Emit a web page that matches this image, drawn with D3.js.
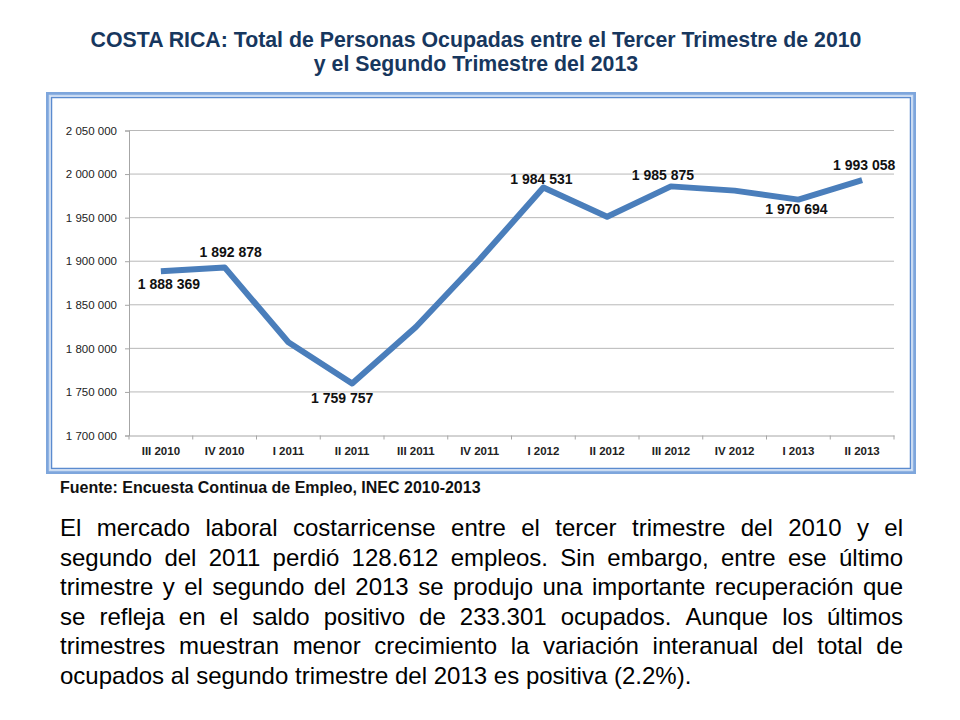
<!DOCTYPE html>
<html>
<head>
<meta charset="utf-8">
<script src="https://cdn.jsdelivr.net/npm/d3@7"></script>
<style>
  body { margin: 0; background: #fff; }
  svg { display: block; }
</style>
</head>
<body>
<div id="chart"></div>
<script>
!function () {
  'use strict';

  // data
  var categories = ["III 2010", "IV 2010", "I 2011", "II 2011", "III 2011", "IV 2011",
                    "I 2012", "II 2012", "III 2012", "IV 2012", "I 2013", "II 2013"];
  var ocupados = [1888369, 1892878, 1807000, 1759757, 1824500, 1902000,
                  1984531, 1951000, 1985875, 1981000, 1970694, 1993058];
  var labelled = [true, true, false, true, false, false,
                  true, false, true, false, true, true];
  var yTicks = [1700000, 1750000, 1800000, 1850000, 1900000, 1950000, 2000000, 2050000];

  var titleLines = ["COSTA RICA: Total de Personas Ocupadas entre el Tercer Trimestre de 2010",
                    "y el Segundo Trimestre del 2013"];
  var source = "Fuente: Encuesta Continua de Empleo, INEC 2010-2013";
  var paragraph = [
    "El mercado laboral costarricense entre el tercer trimestre del 2010 y el",
    "segundo del 2011 perdió 128.612 empleos.  Sin embargo, entre ese último",
    "trimestre y el  segundo del 2013 se produjo una importante recuperación que",
    "se refleja en el saldo positivo de 233.301 ocupados. Aunque los últimos",
    "trimestres muestran menor crecimiento la variación interanual del total de",
    "ocupados al segundo trimestre del 2013 es positiva (2.2%)."
  ];

  // label nudges (layout, not data)
  var labelDx = [8, 6, 0, -10, 0, 0, -2, 0, -8, 0, -2, 2];
  var labelDy = [18, -10, 0, 20, 0, 0, -4, 0, -6, 0, 14, -10];

  var W = 960, H = 720;
  var plot = { left: 129, right: 894, top: 130.5, bottom: 435.5 };

  var locale = d3.formatLocale({ decimal: ",", thousands: " ", grouping: [3], currency: ["", ""] });
  var fmt = locale.format(",d");

  var svg = d3.select("#chart").append("svg")
    .attr("width", W)
    .attr("height", H)
    .style("font-family", "'Liberation Sans', Arial, sans-serif");

  // title
  svg.append("g").selectAll("text")
    .data(titleLines)
    .enter().append("text")
    .attr("x", 476)
    .attr("y", function (d, i) { return 47 + i * 23.5; })
    .attr("text-anchor", "middle")
    .style("font-size", "21.3px")
    .style("font-weight", "bold")
    .style("fill", "#17375e")
    .text(function (d) { return d; });

  // chart frame
  svg.append("rect")
    .attr("x", 47.5).attr("y", 93.5).attr("width", 867).attr("height", 379)
    .style("fill", "#fff").style("stroke", "#7ea6dc").style("stroke-width", 3);
  svg.append("rect")
    .attr("x", 49.5).attr("y", 95.5).attr("width", 863).attr("height", 375)
    .style("fill", "none").style("stroke", "#c9dbf2").style("stroke-width", 1.5);
  svg.append("rect")
    .attr("x", 51.5).attr("y", 97.5).attr("width", 859).attr("height", 371)
    .style("fill", "none").style("stroke", "#5b8bcf").style("stroke-width", 1.5);

  var x = d3.scaleBand().domain(categories).range([plot.left, plot.right]);
  var y = d3.scaleLinear().domain([1700000, 2050000]).range([plot.bottom, plot.top]);
  var cx = function (i) { return x(categories[i]) + x.bandwidth() / 2; };

  // gridlines
  svg.append("g").selectAll("line")
    .data(yTicks.slice(1))
    .enter().append("line")
    .attr("x1", plot.left).attr("x2", plot.right)
    .attr("y1", function (d) { return y(d); })
    .attr("y2", function (d) { return y(d); })
    .style("stroke", "#b8b8b8")
    .style("stroke-width", 1);

  // y axis
  var yAxis = svg.append("g")
    .attr("transform", "translate(" + plot.left + ",0)")
    .call(d3.axisLeft(y).tickValues(yTicks).tickFormat(fmt).tickSize(4).tickPadding(8));
  yAxis.select(".domain").style("stroke", "#a6a6a6");
  yAxis.selectAll(".tick line").style("stroke", "#a6a6a6");
  yAxis.selectAll("text").style("font-size", "11.5px").style("fill", "#222");

  // x axis
  var xAxis = svg.append("g")
    .attr("transform", "translate(0," + plot.bottom + ")")
    .call(d3.axisBottom(x).tickSize(0).tickPadding(11));
  xAxis.select(".domain").style("stroke", "#a6a6a6");
  xAxis.selectAll("text")
    .style("font-size", "11.5px")
    .style("font-weight", "bold")
    .style("fill", "#222");
  xAxis.selectAll("line.sep")
    .data(categories.concat([null]))
    .enter().append("line")
    .attr("class", "sep")
    .attr("x1", function (d) { return d === null ? plot.right : x(d); })
    .attr("x2", function (d) { return d === null ? plot.right : x(d); })
    .attr("y1", 0).attr("y2", 4)
    .style("stroke", "#a6a6a6");

  // series line
  var line = d3.line()
    .x(function (d, i) { return cx(i); })
    .y(function (d) { return y(d); });

  svg.append("path")
    .datum(ocupados)
    .attr("d", line)
    .style("fill", "none")
    .style("stroke", "#4a7ebb")
    .style("stroke-width", 6)
    .style("stroke-linejoin", "round");

  // data labels (keep original index)
  var labelData = ocupados
    .map(function (v, i) { return { v: v, i: i }; })
    .filter(function (d) { return labelled[d.i]; });

  svg.append("g").selectAll("text")
    .data(labelData)
    .enter().append("text")
    .attr("x", function (d) { return cx(d.i) + labelDx[d.i]; })
    .attr("y", function (d) { return y(d.v) + labelDy[d.i]; })
    .attr("text-anchor", "middle")
    .style("font-size", "14px")
    .style("font-weight", "bold")
    .style("fill", "#111")
    .text(function (d) { return fmt(d.v); });

  // source
  svg.append("text")
    .attr("x", 60).attr("y", 493)
    .style("font-size", "16px")
    .style("font-weight", "bold")
    .style("fill", "#111")
    .text(source);

  // justified paragraph
  var para = svg.append("g")
    .style("font-size", "24px")
    .style("fill", "#000");
  var x0 = 60, x1 = 903;

  paragraph.forEach(function (txt, li) {
    var words = txt.split(/\s+/);
    var t = para.append("text").attr("y", 536 + li * 29.5);
    var spans = words.map(function (w) { return t.append("tspan").text(w); });
    var widths = spans.map(function (s) { return s.node().getComputedTextLength(); });
    var last = li === paragraph.length - 1;
    var gap = last ? 6.7 : (x1 - x0 - d3.sum(widths)) / (words.length - 1);
    var px = x0;
    spans.forEach(function (s, i) {
      s.attr("x", px);
      px += widths[i] + gap;
    });
  });

}();
</script>
</body>
</html>
